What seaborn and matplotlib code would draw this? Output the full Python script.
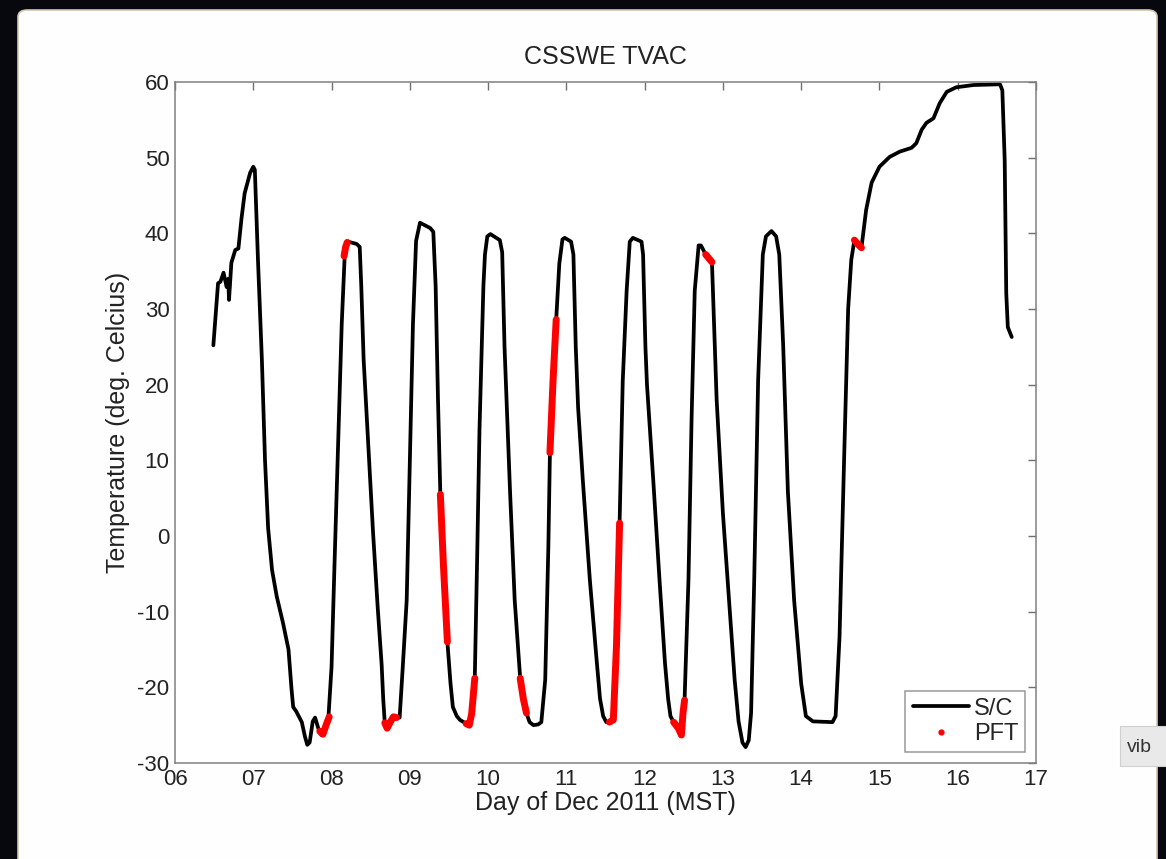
#%%
import numpy as np
import pandas as pd
import matplotlib
matplotlib.use('Agg')
import matplotlib.pyplot as plt
from matplotlib.lines import Line2D
from matplotlib.patches import FancyBboxPatch, Rectangle
import seaborn as sns

# %%
# S/C temperature trace (day of Dec 2011, deg C)
sc_day = [6.49, 6.55, 6.58, 6.62, 6.66, 6.68, 6.69, 6.72, 6.77, 6.81, 6.85, 6.89, 6.96, 7.00, 7.02,
          7.06, 7.11, 7.15, 7.19, 7.24, 7.30, 7.38, 7.45, 7.49, 7.51, 7.55, 7.62, 7.66, 7.69, 7.72, 7.76,
          7.79, 7.83, 7.87, 7.92, 7.96, 8.00, 8.04, 8.09, 8.13, 8.17, 8.21, 8.32, 8.36, 8.38, 8.41,
          8.47, 8.53, 8.59, 8.64, 8.66, 8.68, 8.71, 8.75, 8.79, 8.83, 8.87, 8.91, 8.96, 9.00, 9.04,
          9.08, 9.13, 9.26, 9.30, 9.33, 9.36, 9.39, 9.43, 9.48, 9.52, 9.55, 9.60, 9.64, 9.72, 9.76,
          9.79, 9.83, 9.86, 9.89, 9.94, 9.96, 9.99, 10.03, 10.15, 10.18, 10.21, 10.28, 10.34, 10.41, 10.45,
          10.49, 10.53, 10.58, 10.64, 10.68, 10.73, 10.77, 10.79, 10.83, 10.87, 10.91, 10.95, 10.98,
          11.06, 11.09, 11.12, 11.15, 11.21, 11.30, 11.39, 11.43, 11.47, 11.51, 11.55, 11.60, 11.64,
          11.68, 11.72, 11.77, 11.81, 11.85, 11.96, 11.98, 12.01, 12.03, 12.11, 12.19, 12.26, 12.30,
          12.33, 12.37, 12.43, 12.47, 12.49, 12.51, 12.56, 12.60, 12.64, 12.69, 12.72, 12.78, 12.82,
          12.86, 12.88, 12.92, 13.00, 13.09, 13.15, 13.20, 13.25, 13.29, 13.33, 13.36, 13.40, 13.45,
          13.51, 13.55, 13.62, 13.68, 13.72, 13.77, 13.83, 13.91, 14.00, 14.06, 14.15, 14.40, 14.44,
          14.49, 14.55, 14.60, 14.64, 14.68, 14.72, 14.77, 14.83, 14.90, 15.00, 15.13, 15.26, 15.41,
          15.47, 15.54, 15.60, 15.69, 15.77, 15.86, 15.98, 16.20, 16.54, 16.57, 16.60, 16.62, 16.64,
          16.69]
sc_temp = [25.2, 33.4, 33.6, 34.8, 32.9, 34.0, 31.2, 36.1, 37.8, 38.0, 42.0, 45.3, 48.0, 48.8, 48.4,
           36.5, 23.3, 10.0, 1.0, -4.5, -8.0, -11.5, -15.0, -20.4, -22.6, -23.2, -24.6, -26.5, -27.6, -27.3, -24.5,
           -24.0, -25.4, -26.3, -25.5, -24.0, -17.3, -3.0, 14.0, 28.0, 37.5, 38.9, 38.6, 38.2, 33.0, 23.3,
           12.0, 0.5, -9.5, -17.0, -21.5, -24.7, -25.4, -24.6, -23.9, -24.0, -24.0, -17.3, -8.5, 10.0, 28.0,
           39.0, 41.4, 40.7, 40.2, 33.0, 18.0, 5.5, -4.0, -14.0, -19.5, -22.6, -23.8, -24.3, -24.8, -25.0,
           -23.5, -18.8, -3.0, 14.0, 33.0, 37.2, 39.6, 39.9, 39.1, 37.5, 25.0, 6.0, -8.5, -18.8, -21.5,
           -23.4, -24.6, -25.0, -24.9, -24.6, -19.0, -1.4, 11.0, 20.6, 28.6, 36.0, 39.2, 39.4,
           38.9, 37.2, 25.0, 17.0, 7.4, -5.8, -16.8, -21.5, -23.8, -24.6, -24.6, -24.3, -14.6,
           1.7, 20.4, 32.4, 38.9, 39.4, 38.9, 37.2, 25.0, 20.0, 7.4, -5.8, -16.8, -21.5,
           -23.8, -24.6, -25.4, -26.3, -23.4, -21.7, -5.8, 15.6, 32.4, 38.4, 38.4, 37.2, 36.7,
           36.2, 30.0, 18.0, 3.0, -10.2, -19.0, -24.5, -27.3, -27.9, -27.0, -23.4, -5.8, 20.6,
           37.2, 39.6, 40.3, 39.6, 37.2, 25.2, 5.9, -8.5, -19.5, -23.8, -24.5, -24.6, -23.8,
           -13.3, 10.8, 30.0, 36.5, 39.1, 38.6, 38.1, 43.1, 46.7, 48.8, 50.1, 50.8, 51.3,
           51.9, 53.7, 54.6, 55.2, 57.2, 58.7, 59.3, 59.6, 59.7, 58.9, 49.7, 32.1, 27.6,
           26.3]

# PFT samples (red), one id per run of samples
pft_seg = [1, 1, 1, 1, 2, 2, 2, 3, 3, 3, 3, 3, 4, 4, 4, 5, 5, 5, 5, 6, 6, 6, 7, 7, 7,
           8, 8, 8, 8, 9, 9, 9, 9, 9, 10, 10, 10, 11, 11, 11]
pft_day = [7.85, 7.89, 7.93, 7.97, 8.16, 8.18, 8.20, 8.68, 8.71, 8.75, 8.79, 8.83, 9.39, 9.43, 9.48,
           9.72, 9.76, 9.79, 9.83, 10.41, 10.45, 10.49, 10.79, 10.83, 10.87,
           11.55, 11.60, 11.64, 11.68, 12.37, 12.43, 12.47, 12.49, 12.51, 12.78, 12.82, 12.86,
           14.68, 14.72, 14.77]
pft_temp = [-25.8, -26.2, -25.0, -23.9, 37.0, 38.2, 38.8, -24.7, -25.4, -24.6, -23.9, -24.0, 5.5, -4.0, -14.0,
            -24.8, -25.0, -23.5, -18.8, -18.8, -21.5, -23.4, 11.0, 20.6, 28.6,
            -24.6, -24.3, -14.6, 1.7, -24.6, -25.4, -26.3, -23.4, -21.7, 37.2, 36.7, 36.2,
            39.1, 38.6, 38.1]

day_ticks = list(range(6, 18))
day_labels = ['%02d' % d for d in day_ticks]
temp_ticks = list(range(-30, 70, 10))

# %%
sns.set_style('white')
plt.rcParams['font.family'] = ['Liberation Sans', 'DejaVu Sans']
plt.rcParams['axes.unicode_minus'] = False

W, H = 1166, 859
fig = plt.figure(figsize=(W / 100, H / 100), dpi=100)
fig.patch.set_facecolor('#06080d')

# screenshot frame: white panel, dark surround, small tooltip on the right
fig.patches.append(FancyBboxPatch((18 / W, -0.02), (1157 - 18) / W, 1.02 - 10 / H,
                                  boxstyle='round,pad=0,rounding_size=0.008',
                                  transform=fig.transFigure, facecolor='#fefefe',
                                  edgecolor='#cfc6b4', lw=1.2, zorder=-5))
fig.patches.append(Rectangle((1120 / W, 1 - 766 / H), 50 / W, 40 / H, transform=fig.transFigure,
                             facecolor='#e9e9e9', edgecolor='#d0d0d0', lw=0.8, zorder=-4))
fig.text(1127 / W, 1 - 747 / H, 'vib', fontsize=14, color='#333333', va='center')

ax = fig.add_axes([175 / W, 1 - 763 / H, (1036 - 175) / W, (763 - 82) / H])
ax.set_facecolor('white')

sns.lineplot(x=sc_day, y=sc_temp, color='black', lw=2.7, sort=False, estimator=None,
             ax=ax, legend=False)
pft = pd.DataFrame({'seg': pft_seg, 'day': pft_day, 'temp': pft_temp})
sns.lineplot(data=pft, x='day', y='temp', units='seg', estimator=None, sort=False,
             color='#ff0000', lw=5, solid_capstyle='round', ax=ax, legend=False)

ax.set_xlim(6, 17)
ax.set_ylim(-30, 60)
ax.set_xticks(day_ticks)
ax.set_xticklabels(day_labels)
ax.set_yticks(temp_ticks)
ax.tick_params(direction='in', length=6, width=1, color='#707070', labelsize=16,
               labelcolor='#222222', top=True, right=True, pad=4)
for s in ax.spines.values():
    s.set_color('#808080')
    s.set_linewidth(1.1)

ax.set_title('CSSWE TVAC', fontsize=18, color='#222222', pad=13)
ax.set_xlabel('Day of Dec 2011 (MST)', fontsize=18, color='#222222', labelpad=1)
ax.set_ylabel('Temperature (deg. Celcius)', fontsize=18, color='#222222', labelpad=5)

handles = [Line2D([], [], color='black', lw=2.7),
           Line2D([], [], color='#ff0000', marker='.', ls='none', markersize=7)]
leg = ax.legend(handles, ['S/C', 'PFT'], loc='lower right', fontsize=17, frameon=True,
                fancybox=False, edgecolor='#808080', handlelength=2.4, borderaxespad=0.45,
                borderpad=0.3, labelspacing=0.15, handletextpad=0.2)
leg.get_frame().set_linewidth(1.1)

fig.savefig('out.png', dpi=100, facecolor=fig.get_facecolor())
